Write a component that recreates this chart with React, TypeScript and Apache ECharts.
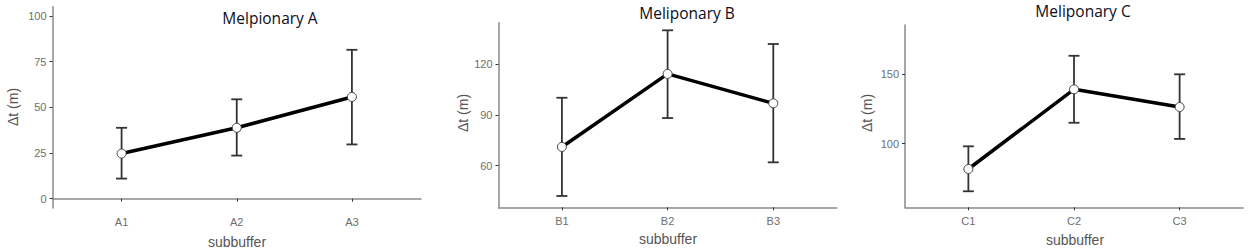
import React, { useEffect, useRef } from "react";
import * as echarts from "echarts";

const titles = ["Melpionary A", "Meliponary B", "Meliponary C"];
const catsA = ["A1", "A2", "A3"];
const catsB = ["B1", "B2", "B3"];
const catsC = ["C1", "C2", "C3"];
const meanA = [24.7, 38.8, 55.7];
const upperA = [38.8, 54.4, 81.5];
const lowerA = [11, 23.6, 29.7];
const meanB = [71.1, 114.3, 96.9];
const upperB = [100.2, 140.1, 132];
const lowerB = [42.1, 88.2, 62];
const meanC = [81.8, 139, 126.3];
const upperC = [98.1, 163.1, 149.8];
const lowerC = [65.8, 115, 103.4];
const ticksA = [0, 25, 50, 75, 100];
const ticksB = [60, 90, 120];
const ticksC = [100, 150];
const yRangeA = [-5.1, 105.1];
const yRangeB = [35.4, 144.6];
const yRangeC = [54.3, 185.2];

const panels = [
  { cats: catsA, mean: meanA, upper: upperA, lower: lowerA, ticks: ticksA, yr: yRangeA },
  { cats: catsB, mean: meanB, upper: upperB, lower: lowerB, ticks: ticksB, yr: yRangeB },
  { cats: catsC, mean: meanC, upper: upperC, lower: lowerC, ticks: ticksC, yr: yRangeC },
];

const grids = [
  { left: 52.5, top: 6.7, width: 368.5, height: 201.3 },
  { left: 498.5, top: 22.7, width: 338.2, height: 184.6 },
  { left: 905, top: 25, width: 338, height: 182.3 },
];

const titlePos = [
  { x: 270, y: 17.5 },
  { x: 687, y: 12.5 },
  { x: 1083, y: 10.5 },
];
const yNamePos = [
  { x: 13, y: 107 },
  { x: 463, y: 113 },
  { x: 867, y: 113 },
];
const xNamePos = [
  { x: 237, y: 242 },
  { x: 668, y: 239 },
  { x: 1075, y: 240 },
];

export default function App() {
  const ref = useRef<HTMLDivElement>(null);
  useEffect(() => {
    document.body.style.margin = "0";
    const chart = echarts.init(ref.current!, null, { renderer: "svg" });
    const axisLineStyle = { color: "#8a8a8a", width: 1.5 };
    const xAxis: any[] = [];
    const yAxis: any[] = [];
    const series: any[] = [];
    const graphic: any[] = [];
    panels.forEach((p, i) => {
      xAxis.push({
        type: "value",
        gridIndex: i,
        min: 0.4,
        max: 3.6,
        axisLine: { show: true, lineStyle: axisLineStyle },
        axisTick: { show: true, customValues: [1, 2, 3], length: 3, lineStyle: { color: "#333", width: 1 } },
        axisLabel: {
          customValues: [1, 2, 3],
          formatter: (v: number) => p.cats[Math.round(v) - 1],
          color: "#6e6e6e",
          fontSize: 11,
          fontFamily: "Liberation Sans, Arial",
          margin: 8,
        },
        splitLine: { show: false },
      });
      yAxis.push({
        type: "value",
        gridIndex: i,
        min: p.yr[0],
        max: p.yr[1],
        axisLine: { show: true, lineStyle: axisLineStyle },
        axisTick: { show: true, customValues: p.ticks, length: 3, lineStyle: { color: "#333", width: 1 } },
        axisLabel: {
          customValues: p.ticks,
          color: "#6e6e6e",
          fontSize: 11,
          fontFamily: "Liberation Sans, Arial",
          margin: 6,
        },
        splitLine: { show: false },
      });
      const errData = p.mean.map((_, j) => [j + 1, p.lower[j], p.upper[j]]);
      series.push({
        type: "custom",
        xAxisIndex: i,
        yAxisIndex: i,
        z: 1,
        data: errData,
        renderItem: (params: any, api: any) => {
          const x = api.value(0);
          const lo = api.coord([x, api.value(1)]);
          const hi = api.coord([x, api.value(2)]);
          const hw = 5.5;
          const st = { stroke: "#333", lineWidth: 1.8 };
          return {
            type: "group",
            children: [
              { type: "line", shape: { x1: lo[0], y1: lo[1], x2: hi[0], y2: hi[1] }, style: st },
              { type: "line", shape: { x1: hi[0] - hw, y1: hi[1], x2: hi[0] + hw, y2: hi[1] }, style: st },
              { type: "line", shape: { x1: lo[0] - hw, y1: lo[1], x2: lo[0] + hw, y2: lo[1] }, style: st },
            ],
          };
        },
      });
      series.push({
        type: "line",
        xAxisIndex: i,
        yAxisIndex: i,
        z: 3,
        data: p.mean.map((v, j) => [j + 1, v]),
        lineStyle: { color: "#000", width: 3.5 },
        symbol: "circle",
        symbolSize: 9,
        itemStyle: { color: "#fff", borderColor: "#444", borderWidth: 1 },
      });
      graphic.push({
        type: "text",
        x: titlePos[i].x,
        y: titlePos[i].y,
        style: {
          text: titles[i],
          fontSize: 15.5,
          fontFamily: "Open Sans",
          fill: "#0d0d1a",
          align: "center",
          verticalAlign: "middle",
        },
      });
      graphic.push({
        type: "text",
        x: yNamePos[i].x,
        y: yNamePos[i].y,
        rotation: Math.PI / 2,
        style: {
          text: "Δt (m)",
          fontSize: 14,
          fontFamily: "Liberation Sans, Arial",
          fill: "#555",
          align: "center",
          verticalAlign: "middle",
        },
      });
      graphic.push({
        type: "text",
        x: xNamePos[i].x,
        y: xNamePos[i].y,
        style: {
          text: "subbuffer",
          fontSize: 14,
          fontFamily: "Liberation Sans, Arial",
          fill: "#555",
          align: "center",
          verticalAlign: "middle",
        },
      });
    });
    chart.setOption({
      animation: false,
      backgroundColor: "#fff",
      grid: grids,
      xAxis,
      yAxis,
      series,
      graphic,
    });
    return () => chart.dispose();
  }, []);
  return <div ref={ref} style={{ width: 1248, height: 252 }} />;
}
